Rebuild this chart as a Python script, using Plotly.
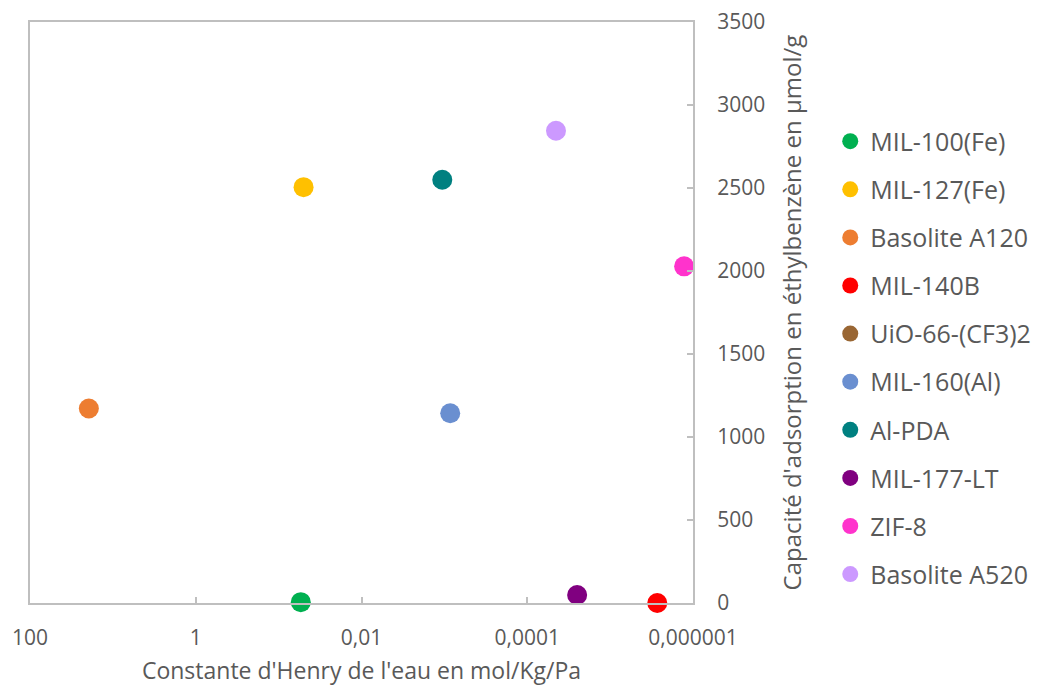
import plotly.graph_objects as go

names = ["MIL-100(Fe)", "MIL-127(Fe)", "Basolite A120", "MIL-140B", "UiO-66-(CF3)2",
         "MIL-160(Al)", "Al-PDA", "MIL-177-LT", "ZIF-8", "Basolite A520"]
henry = [0.054, 0.050, 19.5, 2.7e-6, None, 8.5e-4, 1.06e-3, 2.5e-5, 1.28e-6, 4.5e-5]
capacity = [5, 2505, 1172, 0, None, 1143, 2550, 48, 2028, 2845]
colors = ["#00B050", "#FFC000", "#ED7D31", "#FF0000", "#996633",
          "#6A8FD0", "#008080", "#800080", "#FF33CC", "#CC99FF"]

x_tickvals = [100, 1, 0.01, 0.0001, 0.000001]
x_ticktext = ["100", "1", "0,01", "0,0001", "0,000001"]
y_tickvals = [0, 500, 1000, 1500, 2000, 2500, 3000, 3500]

font_family = "Open Sans, Liberation Sans, sans-serif"
grey = "#595959"
axis_grey = "#BFBFBF"

fig = go.Figure()
for i, (n, xv, yv, c) in enumerate(zip(names, henry, capacity, colors)):
    fig.add_trace(go.Scatter(
        x=[xv], y=[yv], mode="markers", name=n, legendgroup=f"g{i}",
        marker=dict(color=c, size=20, line=dict(width=0)),
        cliponaxis=False,
    ))

fig.update_layout(
    width=1038, height=678,
    paper_bgcolor="white", plot_bgcolor="white",
    margin=dict(l=22, r=353, t=14, b=83, autoexpand=False),
    font=dict(family=font_family, color=grey),
    showlegend=True,
    legend=dict(x=1.207, xanchor="left", y=0.834, yanchor="top",
                font=dict(size=25, color=grey), tracegroupgap=12.6,
                itemsizing="trace", bgcolor="rgba(0,0,0,0)"),
    xaxis=dict(
        type="log", range=[2, -6], autorange=False,
        tickvals=x_tickvals, ticktext=x_ticktext,
        tickfont=dict(size=21, color=grey),
        ticks="inside", ticklen=6, tickcolor=axis_grey, tickwidth=1.5,
        showgrid=False, zeroline=False,
        showline=True, linecolor=axis_grey, linewidth=2, mirror=True,
        ticklabelstandoff=15, ticklabeloverflow="allow",
        title=dict(text="Constante d'Henry de l'eau en mol/Kg/Pa",
                   font=dict(size=23, color=grey), standoff=16),
    ),
    yaxis=dict(
        side="right", range=[0, 3500], autorange=False,
        tickvals=y_tickvals,
        tickfont=dict(size=21, color=grey),
        ticks="inside", ticklen=6, tickcolor=axis_grey, tickwidth=1.5,
        showgrid=False, zeroline=False,
        showline=True, linecolor=axis_grey, linewidth=2, mirror=True,
        ticklabelstandoff=18, ticklabeloverflow="allow",
        title=dict(text="Capacité d'adsorption en éthylbenzène en µmol/g",
                   font=dict(size=24, color=grey), standoff=20),
    ),
)

fig.write_html("out.html")
